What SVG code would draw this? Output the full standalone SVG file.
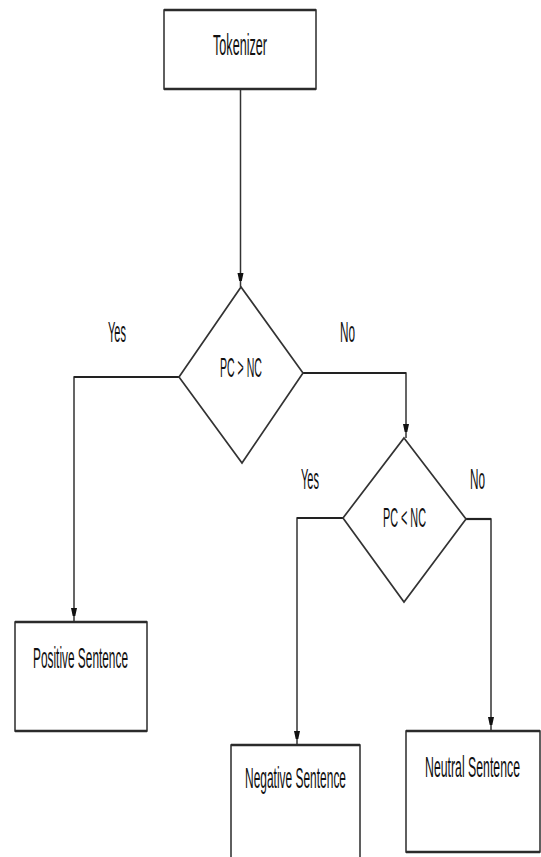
<svg xmlns="http://www.w3.org/2000/svg" width="541" height="857" viewBox="0 0 541 857">
<style>
.box{fill:#fff;stroke:#2b2b2b;stroke-width:1.5}
.edge{stroke:#2b2b2b;stroke-width:2.6}
.dia{fill:#fff;stroke:#333;stroke-width:1.7}
.con{fill:none;stroke:#333;stroke-width:1.5}
.h{fill:none;stroke:#222;stroke-width:2.2}
text{font-family:"Liberation Sans",Arial,sans-serif;font-size:12px;fill:#111;text-anchor:middle}
.lbl{font-size:13px}
</style>
<defs>
<marker id="arr" markerUnits="userSpaceOnUse" markerWidth="8" markerHeight="16" refX="14" refY="3.5" orient="auto">
<path d="M0,0.5 L14,3.5 L0,6.5 z" fill="#111"/>
</marker>
</defs>
<rect width="541" height="857" fill="#fff"/>
<g id="connectors">
<line class="con" x1="240.5" y1="89" x2="240.5" y2="287" marker-end="url(#arr)"/>
<polyline class="con" points="179,377 74,377 74,622" marker-end="url(#arr)"/>
<line class="h" x1="74" y1="377" x2="179" y2="377"/>
<polyline class="con" points="303,373 406,373 406,438" marker-end="url(#arr)"/>
<line class="h" x1="303" y1="373" x2="406" y2="373"/>
<polyline class="con" points="343,518 297,518 297,745" marker-end="url(#arr)"/>
<line class="h" x1="297" y1="518" x2="343" y2="518"/>
<polyline class="con" points="466,519 491,519 491,731" marker-end="url(#arr)"/>
<line class="h" x1="466" y1="519" x2="491" y2="519"/>
<text class="lbl" transform="translate(117,342) scale(1,2.3)" textLength="18" lengthAdjust="spacingAndGlyphs">Yes</text>
<text class="lbl" transform="translate(347.5,342) scale(1,2.3)" textLength="15" lengthAdjust="spacingAndGlyphs">No</text>
<text class="lbl" transform="translate(310,489) scale(1,2.3)" textLength="18" lengthAdjust="spacingAndGlyphs">Yes</text>
<text class="lbl" transform="translate(477.5,489) scale(1,2.3)" textLength="15" lengthAdjust="spacingAndGlyphs">No</text>
</g>
<g id="tokenizer">
<rect class="box" x="164" y="10" width="152" height="79"/>
<line class="edge" x1="164" y1="10" x2="316" y2="10"/>
<line class="edge" x1="164" y1="89" x2="316" y2="89"/>
<text transform="translate(240,55) scale(1,2.4)" textLength="54" lengthAdjust="spacingAndGlyphs">Tokenizer</text>
</g>
<g id="decision1">
<polygon class="dia" points="241,287 303,373 242,463 179,377"/>
<text transform="translate(241,377) scale(1,2.3)" textLength="42" lengthAdjust="spacingAndGlyphs">PC &gt; NC</text>
</g>
<g id="decision2">
<polygon class="dia" points="404,438 466,519 404,602 343,518"/>
<text transform="translate(404.5,527) scale(1,2.3)" textLength="43" lengthAdjust="spacingAndGlyphs">PC &lt; NC</text>
</g>
<g id="positive">
<rect class="box" x="15" y="622" width="132" height="109"/>
<line class="edge" x1="15" y1="622" x2="147" y2="622"/>
<line class="edge" x1="15" y1="731" x2="147" y2="731"/>
<text transform="translate(80.5,668) scale(1,2.4)" textLength="95" lengthAdjust="spacingAndGlyphs">Positive Sentence</text>
</g>
<g id="negative">
<rect class="box" x="231" y="745" width="129" height="130"/>
<line class="edge" x1="231" y1="745" x2="360" y2="745"/>
<text transform="translate(295.5,788) scale(1,2.4)" textLength="101" lengthAdjust="spacingAndGlyphs">Negative Sentence</text>
</g>
<g id="neutral">
<rect class="box" x="406" y="731" width="134" height="121"/>
<line class="edge" x1="406" y1="731" x2="540" y2="731"/>
<line class="edge" x1="406" y1="852" x2="540" y2="852"/>
<text transform="translate(472.5,777) scale(1,2.4)" textLength="95" lengthAdjust="spacingAndGlyphs">Neutral Sentence</text>
</g>
</svg>
